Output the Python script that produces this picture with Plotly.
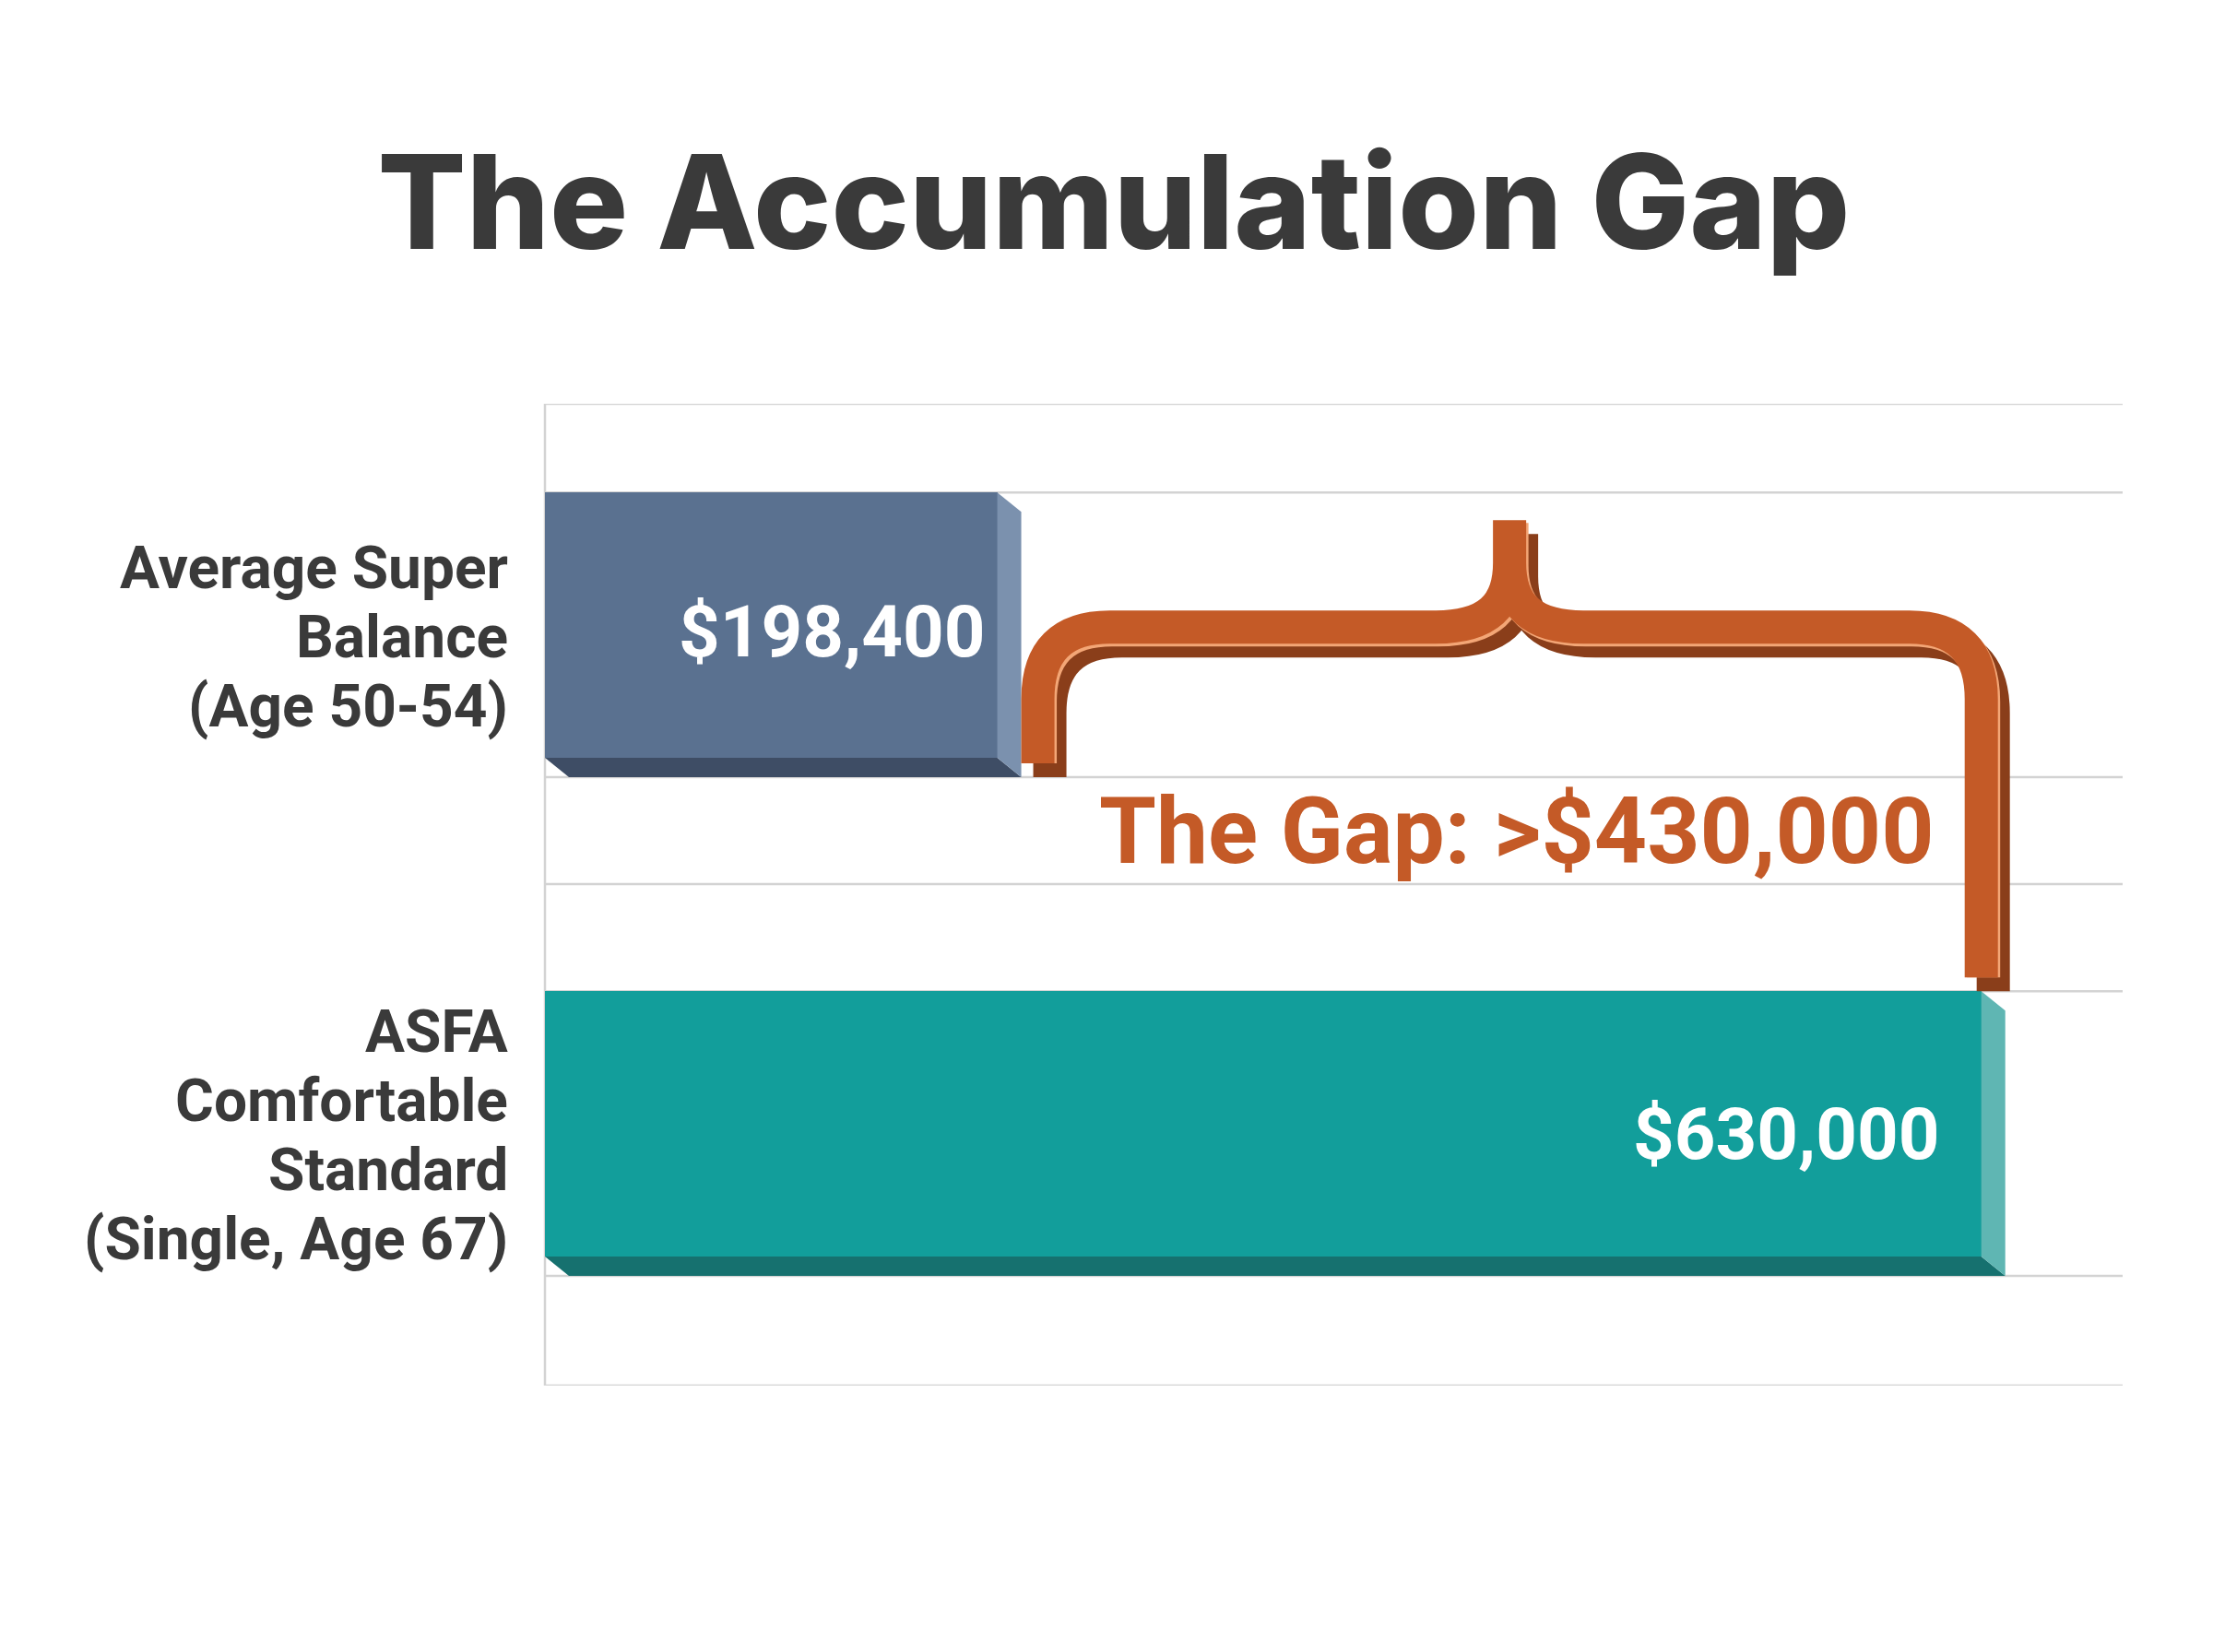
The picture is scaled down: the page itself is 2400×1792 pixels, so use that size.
import plotly.graph_objects as go

# ---------------- data ----------------
title_text = "The Accumulation Gap"
categories = ["Average Super Balance (Age 50-54)",
              "ASFA Comfortable Standard (Single, Age 67)"]
category_lines = [["Average Super", "Balance", "(Age 50-54)"],
                  ["ASFA", "Comfortable", "Standard", "(Single, Age 67)"]]
values = [198400, 630000]
value_labels = ["$198,400", "$630,000"]
gap_label = "The Gap: >$430,000"
positions = [1, 0]

# ---------------- layout geometry ----------------
W, H = 2400, 1792
M_L, M_R, M_T, M_B = 583, 106, 430, 297
X_RANGE = [0, 692000]
Y_RANGE = [-0.525, 1.444]
plot_w = W - M_L - M_R
plot_h = H - M_T - M_B
PX_X = plot_w / (X_RANGE[1] - X_RANGE[0])
PX_Y = plot_h / (Y_RANGE[1] - Y_RANGE[0])

BAR_W = 0.532
dx = 26 / PX_X
dy = 21 / PX_Y

front_colors = ["#5a7190", "#129e9b"]
side_colors = ["#7b91ae", "#5fb6b3"]
bottom_colors = ["#3e4d65", "#16716f"]
brace_color = "#c45a27"
brace_shadow = "#8a3e1a"
brace_light = "#f3a676"
grid_color = "#d3d3d3"
text_dark = "#3a3a3a"

BODY = "Roboto, Liberation Sans, sans-serif"

fig = go.Figure()

# 3D faces of bars
for v, c, sc, bc in zip(values, positions, side_colors, bottom_colors):
    top, bot = c + BAR_W / 2, c - BAR_W / 2
    fig.add_trace(go.Scatter(
        x=[0, v, v + dx, dx, 0], y=[bot, bot, bot - dy, bot - dy, bot],
        mode="lines", line=dict(width=0), fill="toself", fillcolor=bc,
        hoverinfo="skip", showlegend=False))
    fig.add_trace(go.Scatter(
        x=[v, v + dx, v + dx, v, v], y=[top, top - dy, bot - dy, bot, top],
        mode="lines", line=dict(width=0), fill="toself", fillcolor=sc,
        hoverinfo="skip", showlegend=False))

# front faces
fig.add_trace(go.Bar(
    x=values, y=positions, orientation="h", width=BAR_W,
    marker=dict(color=front_colors, line=dict(width=0)),
    hovertext=categories, hoverinfo="text+x", showlegend=False))

shapes = []
# horizontal grid lines at bar edges
mid = ((positions[0] - BAR_W / 2 - dy) + (positions[1] + BAR_W / 2)) / 2
grid_ys = [Y_RANGE[1],
           positions[0] + BAR_W / 2, positions[0] - BAR_W / 2 - dy,
           mid,
           positions[1] + BAR_W / 2, positions[1] - BAR_W / 2 - dy,
           Y_RANGE[0]]
for gy in grid_ys:
    shapes.append(dict(type="line", xref="paper", yref="y", x0=0, x1=1,
                       y0=gy, y1=gy, layer="below",
                       line=dict(color=grid_color, width=2.5)))
shapes.append(dict(type="line", xref="paper", yref="y", x0=0, x1=0,
                   y0=Y_RANGE[0], y1=Y_RANGE[1], layer="below",
                   line=dict(color=grid_color, width=2.5)))

# curly brace spanning the gap
STROKE = 36
xL = values[0] + dx + (STROKE / 2) / PX_X
xR = values[1]
yH = positions[0] - 2 / PX_Y
yP = yH + 116 / PX_Y
yLb = positions[0] - BAR_W / 2 - dy
yRb = positions[1] + BAR_W / 2
rx, ry = 78 / PX_X, 78 / PX_Y
ax = 80 / PX_X
SH = (13, -15)


def brace_path(ox_px, oy_px, lift_px):
    ox, oy, lift = ox_px / PX_X, oy_px / PX_Y, lift_px / PX_Y
    xM = (xL + xR) / 2
    h = yP - yH

    def p(x, y):
        return f"{x + ox:.6f},{y + oy:.6f}"
    return (f"M {p(xL, yLb + lift)} L {p(xL, yH - ry)} "
            f"Q {p(xL, yH)} {p(xL + rx, yH)} L {p(xM - ax, yH)} "
            f"C {p(xM - 0.3 * ax, yH)} {p(xM, yH + 0.2 * h)} {p(xM, yH + 0.6 * h)} "
            f"L {p(xM, yP)} "
            f"M {p(xM, yP)} L {p(xM, yH + 0.6 * h)} "
            f"C {p(xM, yH + 0.2 * h)} {p(xM + 0.3 * ax, yH)} {p(xM + ax, yH)} "
            f"L {p(xR - rx, yH)} Q {p(xR, yH)} {p(xR, yH - ry)} "
            f"L {p(xR, yRb + lift)}")


shapes.append(dict(type="path", xref="x", yref="y",
                   path=brace_path(SH[0], SH[1], -SH[1]),
                   line=dict(color=brace_shadow, width=STROKE)))
shapes.append(dict(type="path", xref="x", yref="y",
                   path=brace_path(2.5, -3, -SH[1] + 3),
                   line=dict(color=brace_light, width=STROKE)))
shapes.append(dict(type="path", xref="x", yref="y",
                   path=brace_path(0, 0, -SH[1]),
                   line=dict(color=brace_color, width=STROKE)))

annotations = []
# category labels, one annotation per line (tight leading)
LABEL_SIZE = 64
PITCH = 75
for lines, c in zip(category_lines, positions):
    n = len(lines)
    for i, t in enumerate(lines):
        annotations.append(dict(
            text=t, xref="paper", yref="y", x=0, y=c,
            xanchor="right", yanchor="middle", showarrow=False,
            xshift=-38, yshift=((n - 1) / 2 - i) * PITCH - 13,
            font=dict(family=BODY, size=LABEL_SIZE, color=text_dark,
                      weight="bold")))

# value labels inside bars
for v, c, t, xs, ys in zip(values, positions, value_labels, [-12, -44], [-7, -11]):
    annotations.append(dict(
        text=t, xref="x", yref="y", x=v, y=c, xanchor="right",
        yanchor="middle", showarrow=False, xshift=xs, yshift=ys,
        font=dict(family=BODY, size=78, color="white", weight="bold")))

# gap label
annotations.append(dict(
    text=gap_label, xref="x", yref="y", x=(xL + xR) / 2, y=mid,
    xanchor="center", yanchor="middle", showarrow=False, xshift=8, yshift=58,
    font=dict(family=BODY, size=100, color=brace_color, weight="bold")))

fig.update_layout(
    width=W, height=H,
    margin=dict(l=M_L, r=M_R, t=M_T, b=M_B),
    paper_bgcolor="white", plot_bgcolor="white",
    title=dict(text=title_text, x=0.5, xanchor="center",
               yref="container", y=1 - 212 / H, yanchor="middle",
               font=dict(family="Inter, Roboto, sans-serif", size=142,
                         color=text_dark, weight=800)),
    xaxis=dict(range=X_RANGE, visible=False, fixedrange=True),
    yaxis=dict(range=Y_RANGE, visible=False, fixedrange=True),
    shapes=shapes, annotations=annotations, bargap=0,
)

fig.write_html("out.html")
